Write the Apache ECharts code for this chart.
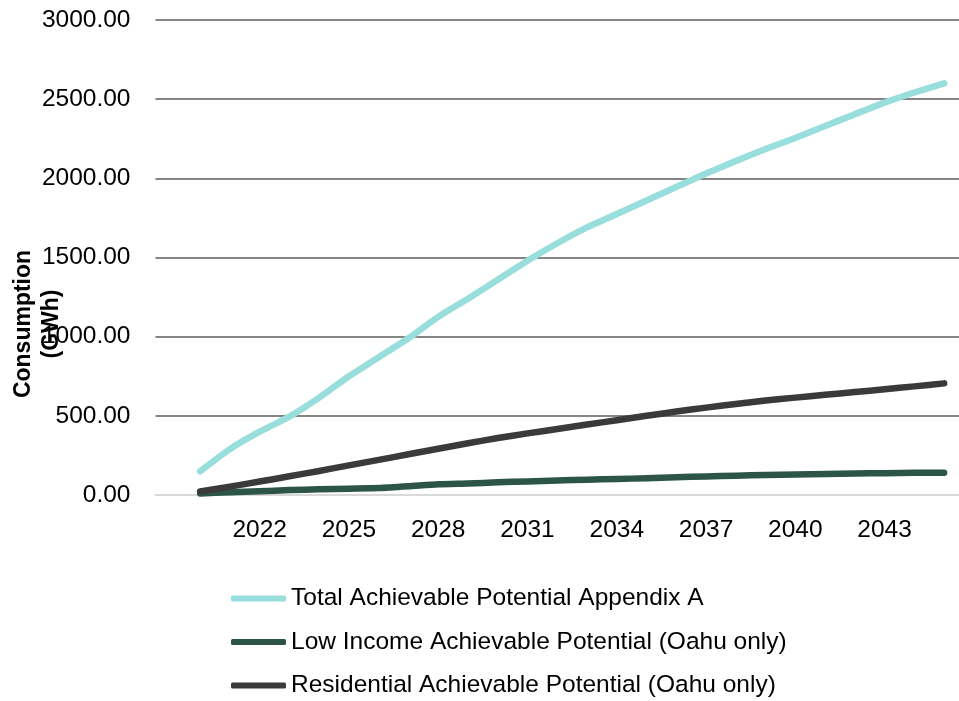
<!DOCTYPE html>
<html>
<head>
<meta charset="utf-8">
<script src="https://cdn.jsdelivr.net/npm/echarts@6/dist/echarts.min.js"></script>
<style>
    body { margin: 0; background: #fff; }
    #main { width: 959px; height: 701px; }
</style>
</head>
<body>
<div id="main"></div>
<script>
    // years on the axis (the first band is an empty slot before 2020)
    var years = ['', '2020', '2021', '2022', '2023', '2024', '2025', '2026', '2027', '2028', '2029',
        '2030', '2031', '2032', '2033', '2034', '2035', '2036', '2037', '2038', '2039',
        '2040', '2041', '2042', '2043', '2044', '2045'];

    var totalAppendixA = [null, 150, 290, 400, 495, 615, 750, 870, 990, 1125, 1240,
        1360, 1480, 1590, 1690, 1775, 1860, 1945, 2030, 2110, 2185,
        2255, 2330, 2405, 2478, 2542, 2600];

    var lowIncome = [null, 10, 17, 24, 31, 36, 40, 44, 55, 68, 73,
        80, 86, 92, 97, 101, 106, 112, 117, 122, 127,
        130, 133, 136, 138, 140, 141];

    var residential = [null, 22, 53, 85, 118, 152, 187, 222, 257, 292, 327,
        360, 389, 417, 445, 472, 500, 527, 552, 575, 597,
        615, 633, 650, 668, 686, 705];

    var yTicks = { min: 0, max: 3000, step: 500 };

    var font = '"Liberation Sans", Arial, sans-serif';

    var chartDom = document.getElementById('main');
    var myChart = echarts.init(chartDom);
    var option;

    function lineSeries(name, data, color) {
        return {
            name: name,
            type: 'line',
            data: data,
            smooth: 0.2,
            showSymbol: false,
            symbol: 'none',
            connectNulls: false,
            lineStyle: { color: color, width: 6.5, cap: 'round', join: 'round' },
            itemStyle: { color: color }
        };
    }

    option = {
        animation: false,
        backgroundColor: '#fff',
        grid: {
            left: 155.5,
            right: -4.5,
            top: 20,
            bottom: 206
        },
        xAxis: {
            type: 'category',
            data: years,
            boundaryGap: true,
            axisTick: { show: false },
            axisLine: { show: true, lineStyle: { color: '#d9d9d9', width: 2 } },
            axisLabel: {
                interval: function (idx) { return idx > 0 && idx % 3 === 0; },
                color: '#000',
                fontFamily: font,
                fontSize: 24.5,
                margin: 23
            },
            splitLine: { show: false }
        },
        yAxis: {
            type: 'value',
            min: yTicks.min,
            max: yTicks.max,
            interval: yTicks.step,
            axisLine: { show: false },
            axisTick: { show: false },
            axisLabel: {
                formatter: function (v) { return v.toFixed(2); },
                color: '#000',
                fontFamily: font,
                fontSize: 24.5,
                margin: 25
            },
            splitLine: {
                lineStyle: {
                    color: ['#d9d9d9', '#858585', '#858585', '#858585', '#858585', '#858585', '#858585'],
                    width: 2
                }
            }
        },
        legend: {
            orient: 'vertical',
            left: 226,
            top: 581,
            height: 200,
            icon: 'roundRect',
            itemWidth: 55,
            itemHeight: 6,
            itemGap: 18.5,
            textStyle: {
                color: '#000',
                fontFamily: font,
                fontSize: 24.5,
                lineHeight: 24
            },
            data: [
                'Total Achievable Potential Appendix A',
                'Low Income Achievable Potential (Oahu only)',
                'Residential Achievable Potential (Oahu only)'
            ]
        },
        graphic: [{
            type: 'text',
            x: 38,
            y: 324,
            rotation: Math.PI / 2,
            style: {
                text: 'Consumption\n(GWh)',
                font: 'bold 23px ' + font,
                fill: '#000',
                align: 'center',
                verticalAlign: 'middle',
                textAlign: 'center',
                textVerticalAlign: 'middle',
                lineHeight: 28
            }
        }],
        series: [
            lineSeries('Total Achievable Potential Appendix A', totalAppendixA, '#98dedc'),
            lineSeries('Low Income Achievable Potential (Oahu only)', lowIncome, '#2c5548'),
            lineSeries('Residential Achievable Potential (Oahu only)', residential, '#3a3a3a')
        ]
    };

    option && myChart.setOption(option);
</script>
</body>
</html>
